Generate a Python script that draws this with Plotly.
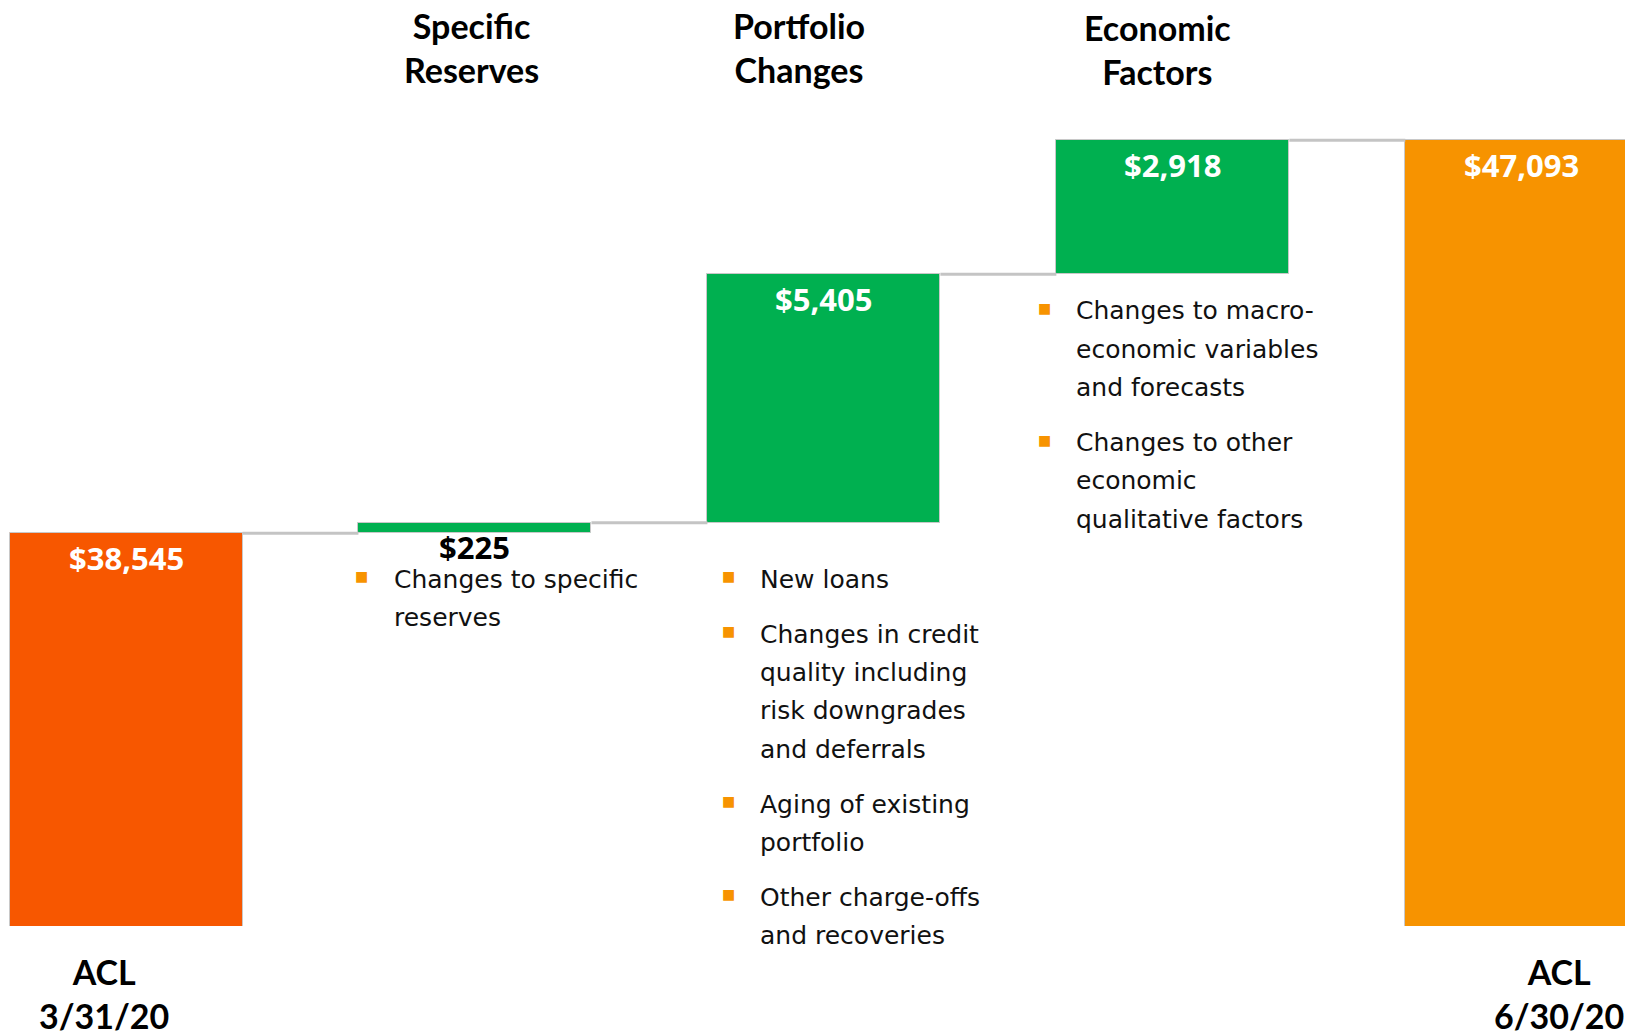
import plotly.graph_objects as go

# ---------------- data ----------------
categories = ["ACL 3/31/20", "Specific Reserves", "Portfolio Changes", "Economic Factors", "ACL 6/30/20"]
measures = ["absolute", "relative", "relative", "relative", "total"]
values = [38545, 225, 5405, 2918, 47093]

header_texts = ["Specific<br>Reserves", "Portfolio<br>Changes", "Economic<br>Factors"]
end_labels = ["ACL<br>3/31/20", "ACL<br>6/30/20"]

specific_bullets = [["Changes to specific", "reserves"]]
portfolio_bullets = [["New loans"],
                     ["Changes in credit", "quality including", "risk downgrades", "and deferrals"],
                     ["Aging of existing", "portfolio"],
                     ["Other charge-offs", "and recoveries"]]
economic_bullets = [["Changes to macro-", "economic variables", "and forecasts"],
                    ["Changes to other", "economic", "qualitative factors"]]

# ---------------- styling / layout ----------------
OFF = 0                            # page body margin (removed via post_script)
W, H = 1625 - OFF, 1034 - OFF
PLOT_H = 926                       # plot area height inside figure
PX_PER_UNIT = 0.045976             # vertical scale
Y_MIN = 30000
Y_MAX = Y_MIN + PLOT_H / PX_PER_UNIT
STEP_PX = 348.95
FIRST_CENTER_PX = 126.0 - OFF
BAR_W = 233.0 / STEP_PX
X_MIN = -FIRST_CENTER_PX / STEP_PX
X_MAX = (W - FIRST_CENTER_PX) / STEP_PX

RED_ORANGE = "#F75700"
GREEN = "#00B050"
ORANGE = "#F79300"
BULLET = "#F79300"
colors = [RED_ORANGE, GREEN, GREEN, GREEN, ORANGE]

# compute waterfall geometry from data
bases, heights, tops = [], [], []
cum = 0
for m, v in zip(measures, values):
    if m == "absolute":
        base, top = 0, v
        cum = v
    elif m == "relative":
        base, top = cum, cum + v
        cum += v
    else:
        base, top = 0, v
    bases.append(base)
    heights.append(top - base)
    tops.append(top)

xs = list(range(len(categories)))

fig = go.Figure()
fig.add_trace(go.Bar(
    x=xs, y=heights, base=bases, width=BAR_W,
    marker=dict(color=colors, line=dict(color="#C8C8C8", width=1)),
    hoverinfo="skip", showlegend=False,
))

# connectors
cx, cy = [], []
for i in range(len(xs) - 1):
    level = tops[i]
    cx += [xs[i] + BAR_W / 2, xs[i + 1] - BAR_W / 2, None]
    cy += [level, level, None]
fig.add_trace(go.Scatter(x=cx, y=cy, mode="lines",
                         line=dict(color="#C4C4C4", width=3),
                         hoverinfo="skip", showlegend=False))

ann = []

def px_x(px):
    return (px - OFF) / W

def px_y(py):
    return (PLOT_H - (py - OFF)) / PLOT_H

# value labels
for i, v in enumerate(values):
    txt = f"${v:,}"
    if heights[i] * PX_PER_UNIT > 50:
        ann.append(dict(x=xs[i], y=tops[i], xref="x", yref="y", text=txt,
                        showarrow=False, yanchor="middle", yshift=-25,
                        font=dict(family="Open Sans", size=31, color="white", weight="bold")))
    else:
        ann.append(dict(x=xs[i], y=bases[i], xref="x", yref="y", text=txt,
                        showarrow=False, yanchor="middle", yshift=-14,
                        font=dict(family="Open Sans", size=31, color="black", weight="bold")))

# headers
header_pos = [(471.5, 47.0), (799.0, 47.0), (1157.6, 50.0)]
for t, (hx, hy) in zip(header_texts, header_pos):
    ann.append(dict(x=px_x(hx), y=px_y(hy), xref="paper", yref="paper", text=t,
                    showarrow=False, xanchor="center", yanchor="middle", borderpad=0,
                    font=dict(family="Lato", size=34, color="black", weight="bold")))

# end labels
end_pos = [(103.6, 993.5), (1559.0, 993.5)]
for t, (ex, ey) in zip(end_labels, end_pos):
    ann.append(dict(x=px_x(ex), y=px_y(ey), xref="paper", yref="paper", text=t,
                    showarrow=False, xanchor="center", yanchor="middle", borderpad=0,
                    font=dict(family="Lato", size=34, color="black", weight="bold")))

# bullet groups
LINE_STEP = 38.3
PARA_STEP = 55.0
groups = [
    (specific_bullets, 361.7, 391.7, 579.3),
    (portfolio_bullets, 728.6, 757.6, 579.3),
    (economic_bullets, 1044.6, 1073.7, 310.9),
]
for paras, bx, tx, y0 in groups:
    y = y0
    for pi, para in enumerate(paras):
        if pi > 0:
            y += PARA_STEP
        ann.append(dict(x=px_x(bx), y=px_y(y - 3), xref="paper", yref="paper", text="■",
                        showarrow=False, xanchor="center", yanchor="middle",
                        font=dict(family="DejaVu Sans", size=14, color=BULLET)))
        for li, line in enumerate(para):
            if li > 0:
                y += LINE_STEP
            ann.append(dict(x=px_x(tx), y=px_y(y), xref="paper", yref="paper", text=line,
                            showarrow=False, xanchor="left", yanchor="middle",
                            font=dict(family="DejaVu Sans", size=25, color="#111111")))

fig.update_layout(
    width=W, height=H,
    margin=dict(l=0, r=0, t=0, b=H - PLOT_H, pad=0),
    paper_bgcolor="white", plot_bgcolor="white",
    xaxis=dict(range=[X_MIN, X_MAX], visible=False, fixedrange=True),
    yaxis=dict(range=[Y_MIN, Y_MAX], visible=False, fixedrange=True),
    annotations=ann,
    bargap=0,
)

fig.write_html(
    "out.html",
    config={"displayModeBar": False},
    post_script="document.body.style.margin='0';document.documentElement.style.overflow='hidden';document.body.style.overflow='hidden';",
)
